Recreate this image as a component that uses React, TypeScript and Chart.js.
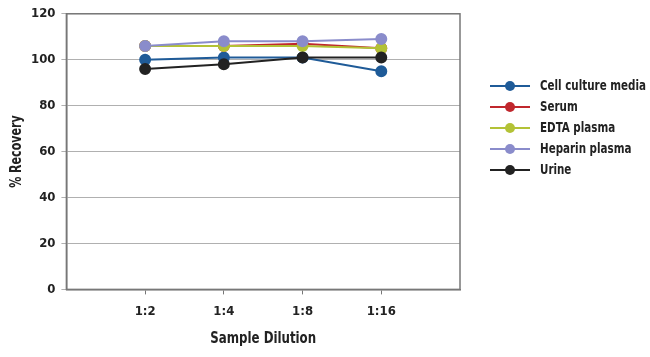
import React, { useEffect, useRef } from "react";
import { Chart, registerables } from "chart.js";

Chart.register(...registerables);

const categories = ["1:2", "1:4", "1:8", "1:16"];
const seriesNames = ["Cell culture media", "Serum", "EDTA plasma", "Heparin plasma", "Urine"];
const cellCulture = [100, 101, 101, 95];
const serum = [106, 106, 107, 105];
const edta = [106, 106, 106, 105];
const heparin = [106, 108, 108, 109];
const urine = [96, 98, 101, 101];
const seriesValues = [cellCulture, serum, edta, heparin, urine];
const seriesColors = ["#1f5b98", "#c0272d", "#b3c236", "#8a8ccb", "#222222"];
const yTicks = [0, 20, 40, 60, 80, 100, 120];
const xTitle = "Sample Dilution";
const yTitle = "% Recovery";

const FONT = '"DejaVu Sans Condensed", "DejaVu Sans", sans-serif';
const SQUEEZE = 0.82;

function condensedText(ctx: any, text: string, x: number, y: number, align: "left" | "center") {
  ctx.save();
  ctx.translate(x, y);
  ctx.scale(SQUEEZE, 1);
  ctx.textAlign = align;
  ctx.textBaseline = "middle";
  ctx.fillText(text, 0, 0);
  ctx.restore();
}

const decorPlugin = {
  id: "decor",
  afterDraw(chart: any) {
    const ctx = chart.ctx;
    const area = chart.chartArea;
    ctx.save();
    // plot border
    ctx.strokeStyle = "#777777";
    ctx.lineWidth = 1.5;
    ctx.strokeRect(area.left, area.top, area.right - area.left, area.bottom - area.top);
    // axis titles
    ctx.fillStyle = "#222";
    ctx.font = `bold 16px ${FONT}`;
    condensedText(ctx, xTitle, (area.left + area.right) / 2, 339, "center");
    ctx.save();
    ctx.translate(17, (area.top + area.bottom) / 2);
    ctx.rotate(-Math.PI / 2);
    ctx.font = `bold 15px ${FONT}`;
    condensedText(ctx, yTitle, 0, 0, "center");
    ctx.restore();
    // legend
    const x0 = area.right + 30;
    chart.data.datasets.forEach((ds: any, i: number) => {
      const y = 86 + i * 21;
      ctx.strokeStyle = ds.borderColor;
      ctx.lineWidth = 2;
      ctx.beginPath();
      ctx.moveTo(x0, y);
      ctx.lineTo(x0 + 40, y);
      ctx.stroke();
      ctx.fillStyle = ds.borderColor;
      ctx.beginPath();
      ctx.arc(x0 + 20, y, 5, 0, Math.PI * 2);
      ctx.fill();
      ctx.fillStyle = "#222";
      ctx.font = `bold 14px ${FONT}`;
      condensedText(ctx, ds.label, x0 + 50, y, "left");
    });
    ctx.restore();
  },
};

export default function App() {
  const ref = useRef<HTMLCanvasElement>(null);
  useEffect(() => {
    document.body.style.margin = "0";
    const chart = new Chart(ref.current!, {
      type: "line",
      data: {
        datasets: seriesNames.map((name, i) => ({
          label: name,
          data: seriesValues[i].map((v, j) => ({ x: j + 1, y: v })),
          borderColor: seriesColors[i],
          backgroundColor: seriesColors[i],
          pointBackgroundColor: seriesColors[i],
          pointBorderColor: seriesColors[i],
          pointRadius: 5,
          borderWidth: 2,
          tension: 0,
          order: seriesNames.length - 1 - i,
        })),
      },
      options: {
        animation: false,
        responsive: false,
        maintainAspectRatio: false,
        layout: { padding: { top: 10, right: 190, left: 25, bottom: 29 } },
        plugins: {
          legend: { display: false },
          tooltip: { enabled: false },
        },
        scales: {
          x: {
            type: "linear",
            min: 0,
            max: categories.length + 1,
            afterBuildTicks(axis: any) {
              axis.ticks = [0, 1, 2, 3, 4, 5].map((v) => ({ value: v }));
            },
            ticks: {
              callback: (v: any) => categories[Number(v) - 1] ?? "",
              color: "#222",
              font: { family: FONT, weight: "bold", size: 13 },
              padding: 9,
              maxRotation: 0,
              autoSkip: false,
            },
            grid: {
              drawOnChartArea: false,
              tickLength: 5,
              color: (c: any) => (c.index === 0 || c.index === categories.length + 1 ? "rgba(0,0,0,0)" : "#777"),
            },
            border: { color: "#777", width: 1.5 },
          },
          y: {
            min: 0,
            max: 120,
            afterBuildTicks(axis: any) {
              axis.ticks = yTicks.map((v) => ({ value: v }));
            },
            ticks: {
              color: "#222",
              font: { family: FONT, weight: "bold", size: 13 },
              padding: 6,
            },
            grid: { color: "#b0b0b0", tickLength: 5, lineWidth: 1 },
            border: { color: "#777", width: 1.5 },
          },
        },
      },
      plugins: [decorPlugin],
    });
    return () => chart.destroy();
  }, []);
  return (
    <div style={{ width: 650, height: 357 }}>
      <canvas ref={ref} width={650} height={357} style={{ display: "block" }} />
    </div>
  );
}
